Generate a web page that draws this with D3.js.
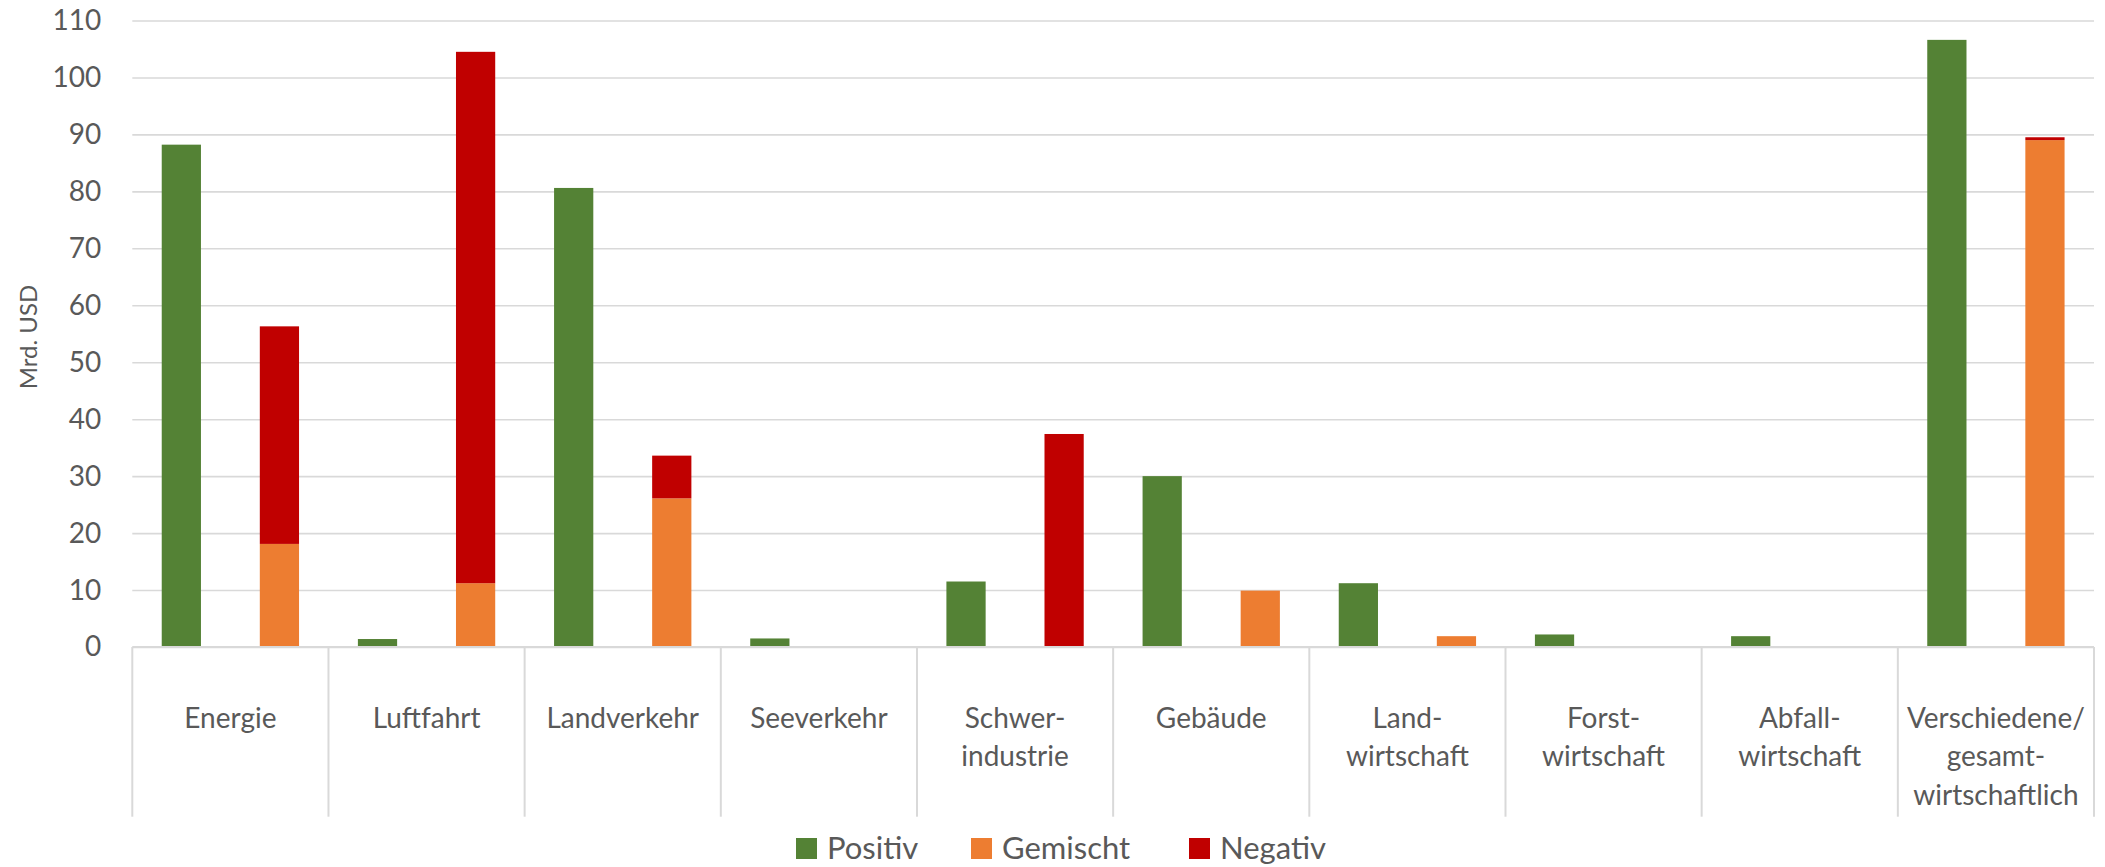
<!DOCTYPE html>
<html>
<head>
<meta charset="utf-8">
<script src="https://cdn.jsdelivr.net/npm/d3@7/dist/d3.min.js"></script>
<style>
  html, body { margin: 0; padding: 0; background: #ffffff; }
  svg { display: block; font-family: Lato, "Open Sans", sans-serif; }
</style>
</head>
<body>
<svg id="chart" width="2105" height="867"></svg>
<script>
// Sectors (label lines) and funding volumes in Mrd. USD
const categories = [
  ["Energie"],
  ["Luftfahrt"],
  ["Landverkehr"],
  ["Seeverkehr"],
  ["Schwer-", "industrie"],
  ["Gebäude"],
  ["Land-", "wirtschaft"],
  ["Forst-", "wirtschaft"],
  ["Abfall-", "wirtschaft"],
  ["Verschiedene/", "gesamt-", "wirtschaftlich"]
];
const positiv  = [88.2, 1.4, 80.6, 1.5, 11.5, 30.0, 11.2, 2.2, 1.9, 106.6];
const gemischt = [18.1, 11.2, 26.1, 0, 0, 9.9, 1.9, 0, 0, 89.0];
const negativ  = [38.2, 93.3, 7.5, 0, 37.4, 0, 0, 0, 0, 0.5];
const yTicks = [0, 10, 20, 30, 40, 50, 60, 70, 80, 90, 100, 110];
const seriesNames = ["Positiv", "Gemischt", "Negativ"];
const seriesColors = ["#548235", "#ED7D31", "#C00000"];

(function draw() {
  const svg = d3.select("#chart");
  const plotLeft = 132.3, plotRight = 2094, plotTop = 20.5, plotBottom = 647;
  const gridColor = "#D9D9D9", textColor = "#595959";

  const keys = categories.map(c => c.join(""));
  const x = d3.scaleBand().domain(keys).range([plotLeft, plotRight]).padding(0);
  const slot = d3.scaleBand().domain(["single", "stack"]).range([0, x.bandwidth()])
    .paddingInner(0.6).paddingOuter(0.3);
  const y = d3.scaleLinear().domain([0, 110]).range([plotBottom, plotTop]);

  // Value axis with horizontal gridlines
  const yAxis = svg.append("g")
    .attr("transform", `translate(${plotLeft},0)`)
    .call(d3.axisLeft(y).tickValues(yTicks).tickSize(-(plotRight - plotLeft)).tickPadding(31));
  yAxis.select(".domain").remove();
  yAxis.selectAll(".tick line").attr("stroke", gridColor).attr("stroke-width", 1.6);
  yAxis.selectAll(".tick text")
    .attr("fill", textColor).attr("font-size", 28).attr("font-family", "Lato");

  // Bars: Positiv on its own, Gemischt + Negativ stacked
  const rows = keys.map((k, i) => ({ key: k, pos: positiv[i], mix: gemischt[i], neg: negativ[i] }));
  const bars = svg.append("g");
  bars.selectAll("rect.pos").data(rows).join("rect")
    .attr("class", "pos")
    .attr("x", d => x(d.key) + slot("single"))
    .attr("width", slot.bandwidth())
    .attr("y", d => y(d.pos))
    .attr("height", d => y(0) - y(d.pos))
    .attr("fill", seriesColors[0]);

  const stack = d3.stack().keys(["mix", "neg"])(rows);
  stack.forEach((layer, li) => {
    bars.selectAll(`rect.s${li}`).data(layer).join("rect")
      .attr("class", `s${li}`)
      .attr("x", d => x(d.data.key) + slot("stack"))
      .attr("width", slot.bandwidth())
      .attr("y", d => y(d[1]))
      .attr("height", d => y(d[0]) - y(d[1]))
      .attr("fill", seriesColors[li + 1]);
  });

  // Category axis: baseline, separators and wrapped labels
  const sepBottom = 816.7;
  svg.append("line")
    .attr("x1", plotLeft).attr("x2", plotRight).attr("y1", y(0)).attr("y2", y(0))
    .attr("stroke", gridColor).attr("stroke-width", 2);
  const bounds = keys.map(k => x(k)).concat([x(keys[keys.length - 1]) + x.bandwidth()]);
  svg.append("g").selectAll("line").data(bounds).join("line")
    .attr("x1", d => d).attr("x2", d => d)
    .attr("y1", y(0)).attr("y2", sepBottom)
    .attr("stroke", gridColor).attr("stroke-width", 2);

  const xAxis = svg.append("g")
    .attr("transform", `translate(0,${y(0)})`)
    .call(d3.axisBottom(x).tickSize(0).tickFormat(""));
  xAxis.select(".domain").remove();
  xAxis.selectAll(".tick").each(function (k, i) {
    const t = d3.select(this).append("text")
      .attr("fill", textColor).attr("font-size", 28).attr("font-family", "Lato")
      .attr("text-anchor", "middle");
    categories[i].forEach((line, j) => {
      t.append("tspan").attr("x", 0).attr("y", 81 + j * 38.3).text(line);
    });
  });

  // Axis title
  svg.append("text")
    .attr("transform", "translate(37,337) rotate(-90)")
    .attr("text-anchor", "middle")
    .attr("fill", textColor).attr("font-size", 24).attr("font-family", "Lato")
    .text("Mrd. USD");

  // Legend
  const legendX = [796, 971, 1189];
  const legend = svg.append("g").selectAll("g").data(seriesNames).join("g")
    .attr("transform", (d, i) => `translate(${legendX[i]},838)`);
  legend.append("rect").attr("width", 21).attr("height", 21)
    .attr("fill", (d, i) => seriesColors[i]);
  legend.append("text").attr("x", 31).attr("y", 21)
    .attr("fill", textColor).attr("font-size", 31).attr("font-family", "Lato")
    .text(d => d);
})();
</script>
</body>
</html>
